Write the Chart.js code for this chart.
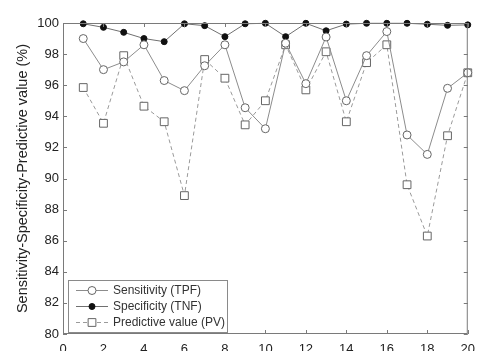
<!DOCTYPE html>
<html>
<head>
<meta charset="utf-8">
<script src="https://cdn.jsdelivr.net/npm/chart.js@4.4.1/dist/chart.umd.min.js"></script>
<style>
  html, body { margin: 0; padding: 0; background: #fff; overflow: hidden; }
  #wrap { width: 483px; height: 351px; overflow: hidden; }
</style>
</head>
<body>
<div id="wrap"><canvas id="c" width="483" height="362"></canvas></div>
<script>
var cases = [1, 2, 3, 4, 5, 6, 7, 8, 9, 10, 11, 12, 13, 14, 15, 16, 17, 18, 19, 20];
var sensitivity = [99.0, 97.0, 97.5, 98.6, 96.3, 95.65, 97.25, 98.6, 94.55, 93.2, 98.7, 96.1, 99.1, 95.0, 97.9, 99.45, 92.8, 91.55, 95.8, 96.8];
var specificity = [99.95, 99.72, 99.4, 99.0, 98.8, 99.95, 99.83, 99.12, 99.95, 99.98, 99.12, 99.98, 99.5, 99.93, 99.98, 99.98, 99.98, 99.92, 99.85, 99.88];
var predictive = [95.85, 93.55, 97.9, 94.65, 93.65, 88.9, 97.65, 96.45, 93.45, 95.0, 98.6, 95.7, 98.15, 93.65, 97.45, 98.6, 89.6, 86.3, 92.75, 96.8];
var xTicks = [0, 2, 4, 6, 8, 10, 12, 14, 16, 18, 20];
var yTicks = [80, 82, 84, 86, 88, 90, 92, 94, 96, 98, 100];
var seriesNames = ['Sensitivity (TPF)', 'Specificity (TNF)', 'Predictive value (PV)'];

var uiFont = '"Liberation Sans", Arial, Helvetica, sans-serif';
var axisColor = '#7a7a7a';

function points(vals) {
	return cases.map(function(c, i) { return { x: c, y: vals[i] }; });
}

// box round the plot, ticks pointing inwards, legend inside bottom-left
var framePlugin = {
	id: 'frame',
	afterDatasetsDraw: function(chart) {
		var ctx = chart.ctx;
		var a = chart.chartArea;
		var xs = chart.scales.x, ys = chart.scales.y;
		ctx.save();
		ctx.strokeStyle = axisColor;
		ctx.lineWidth = 1;
		ctx.strokeRect(a.left + 0.5, a.top + 0.5, a.right - a.left - 1, a.bottom - a.top - 1);
		ctx.beginPath();
		xTicks.forEach(function(t) {
			var px = Math.round(xs.getPixelForValue(t)) + 0.5;
			ctx.moveTo(px, a.bottom); ctx.lineTo(px, a.bottom - 4);
			ctx.moveTo(px, a.top); ctx.lineTo(px, a.top + 4);
		});
		yTicks.forEach(function(t) {
			var py = Math.round(ys.getPixelForValue(t)) + 0.5;
			ctx.moveTo(a.left, py); ctx.lineTo(a.left + 4, py);
			ctx.moveTo(a.right, py); ctx.lineTo(a.right - 4, py);
		});
		ctx.stroke();

		// legend
		var lx = a.left + 5, ly = a.bottom - 54, lw = 159, lh = 52;
		ctx.fillStyle = '#fff';
		ctx.fillRect(lx, ly, lw, lh);
		ctx.strokeStyle = '#8a8a8a';
		ctx.strokeRect(lx + 0.5, ly + 0.5, lw, lh);
		chart.data.datasets.forEach(function(ds, i) {
			var ry = ly + 10 + i * 16;
			ctx.save();
			ctx.strokeStyle = ds.borderColor;
			ctx.lineWidth = ds.borderWidth;
			ctx.setLineDash(ds.borderDash || []);
			ctx.beginPath();
			ctx.moveTo(lx + 8, ry + 0.5); ctx.lineTo(lx + 40, ry + 0.5);
			ctx.stroke();
			ctx.restore();
			ctx.save();
			ctx.fillStyle = ds.pointBackgroundColor;
			ctx.strokeStyle = ds.pointBorderColor;
			ctx.lineWidth = ds.pointBorderWidth;
			Chart.helpers.drawPoint(ctx, {
				pointStyle: ds.pointStyle, radius: ds.pointRadius, borderWidth: ds.pointBorderWidth, rotation: 0
			}, lx + 24, ry + 0.5);
			ctx.restore();
			ctx.fillStyle = '#333';
			ctx.font = '12px ' + uiFont;
			ctx.textBaseline = 'middle';
			ctx.fillText(seriesNames[i], lx + 45, ry + 1);
		});
		ctx.restore();
	}
};

new Chart(document.getElementById('c'), {
	type: 'line',
	data: {
		datasets: [
			{
				label: seriesNames[0],
				data: points(sensitivity),
				borderColor: '#8c8c8c',
				borderWidth: 1,
				pointStyle: 'circle',
				pointRadius: 4,
				pointBorderWidth: 1,
				pointBackgroundColor: '#fff',
				pointBorderColor: '#666'
			},
			{
				label: seriesNames[1],
				data: points(specificity),
				borderColor: '#707070',
				borderWidth: 1,
				pointStyle: 'circle',
				pointRadius: 3,
				pointBorderWidth: 1,
				pointBackgroundColor: '#111',
				pointBorderColor: '#111'
			},
			{
				label: seriesNames[2],
				data: points(predictive),
				borderColor: '#9a9a9a',
				borderWidth: 1,
				borderDash: [4, 3],
				pointStyle: 'rect',
				pointRadius: 5.5,
				pointBorderWidth: 1,
				pointBackgroundColor: '#fff',
				pointBorderColor: '#666'
			}
		]
	},
	options: {
		responsive: false,
		animation: false,
		clip: false,
		layout: { padding: { left: 0, right: 4, top: 23, bottom: 0 } },
		plugins: { legend: { display: false }, tooltip: { enabled: false } },
		scales: {
			x: {
				type: 'linear',
				min: 0, max: 20,
				afterBuildTicks: function(s) { s.ticks = xTicks.map(function(v) { return { value: v }; }); },
				afterFit: function(s) { s.height = 28; },
				grid: { display: false, drawTicks: false },
				border: { display: false },
				ticks: { padding: 8, color: '#222', font: { family: uiFont, size: 13 }, maxRotation: 0 }
			},
			y: {
				min: 80, max: 100,
				afterBuildTicks: function(s) { s.ticks = yTicks.map(function(v) { return { value: v }; }); },
				afterFit: function(s) { s.width = 63; },
				grid: { display: false, drawTicks: false },
				border: { display: false },
				ticks: { padding: 4, color: '#222', font: { family: uiFont, size: 13 } },
				title: {
					display: true,
					text: 'Sensitivity-Specificity-Predictive value (%)',
					color: '#222',
					font: { family: uiFont, size: 14.5 },
					padding: { top: 14, bottom: 0 }
				}
			}
		}
	},
	plugins: [framePlugin]
});
</script>
</body>
</html>
